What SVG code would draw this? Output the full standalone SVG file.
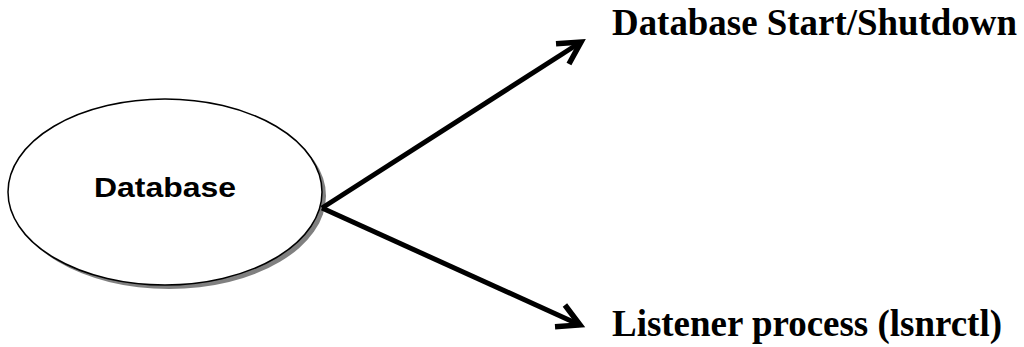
<svg xmlns="http://www.w3.org/2000/svg" width="1024" height="347" viewBox="0 0 1024 347">
<style>
.lbl{font-family:"Liberation Serif","Times New Roman",serif;font-weight:bold;font-size:37px;fill:#000}
.node{font-family:"Liberation Sans",Arial,sans-serif;font-weight:bold;font-size:28px;fill:#000}
.conn{stroke:#000;stroke-width:5;fill:none}
</style>
<defs>
<marker id="chev" markerUnits="userSpaceOnUse" markerWidth="40" markerHeight="40" viewBox="-30 -20 40 40" refX="0" refY="0" orient="auto">
<path d="M-22,-12 L0,0 L-22,12" fill="none" stroke="#000" stroke-width="5.5" stroke-linecap="butt" stroke-linejoin="miter"/>
</marker>
</defs>
<g id="node-database">
<ellipse cx="169" cy="196" rx="157" ry="93" fill="#808080"/>
<ellipse cx="165" cy="192" rx="157" ry="93" fill="#fff" stroke="#000" stroke-width="1.5"/>
<text class="node" x="165" y="197" text-anchor="middle" textLength="142" lengthAdjust="spacingAndGlyphs">Database</text>
</g>
<g id="connectors">
<line class="conn" x1="322" y1="208" x2="581" y2="42" marker-end="url(#chev)"/>
<line class="conn" x1="322" y1="208" x2="580" y2="325" marker-end="url(#chev)"/>
</g>
<g id="node-startshutdown">
<text class="lbl" x="612" y="35" textLength="405" lengthAdjust="spacingAndGlyphs">Database Start/Shutdown</text>
</g>
<g id="node-listener">
<text class="lbl" x="612" y="336" textLength="390" lengthAdjust="spacingAndGlyphs">Listener process (lsnrctl)</text>
</g>
</svg>
